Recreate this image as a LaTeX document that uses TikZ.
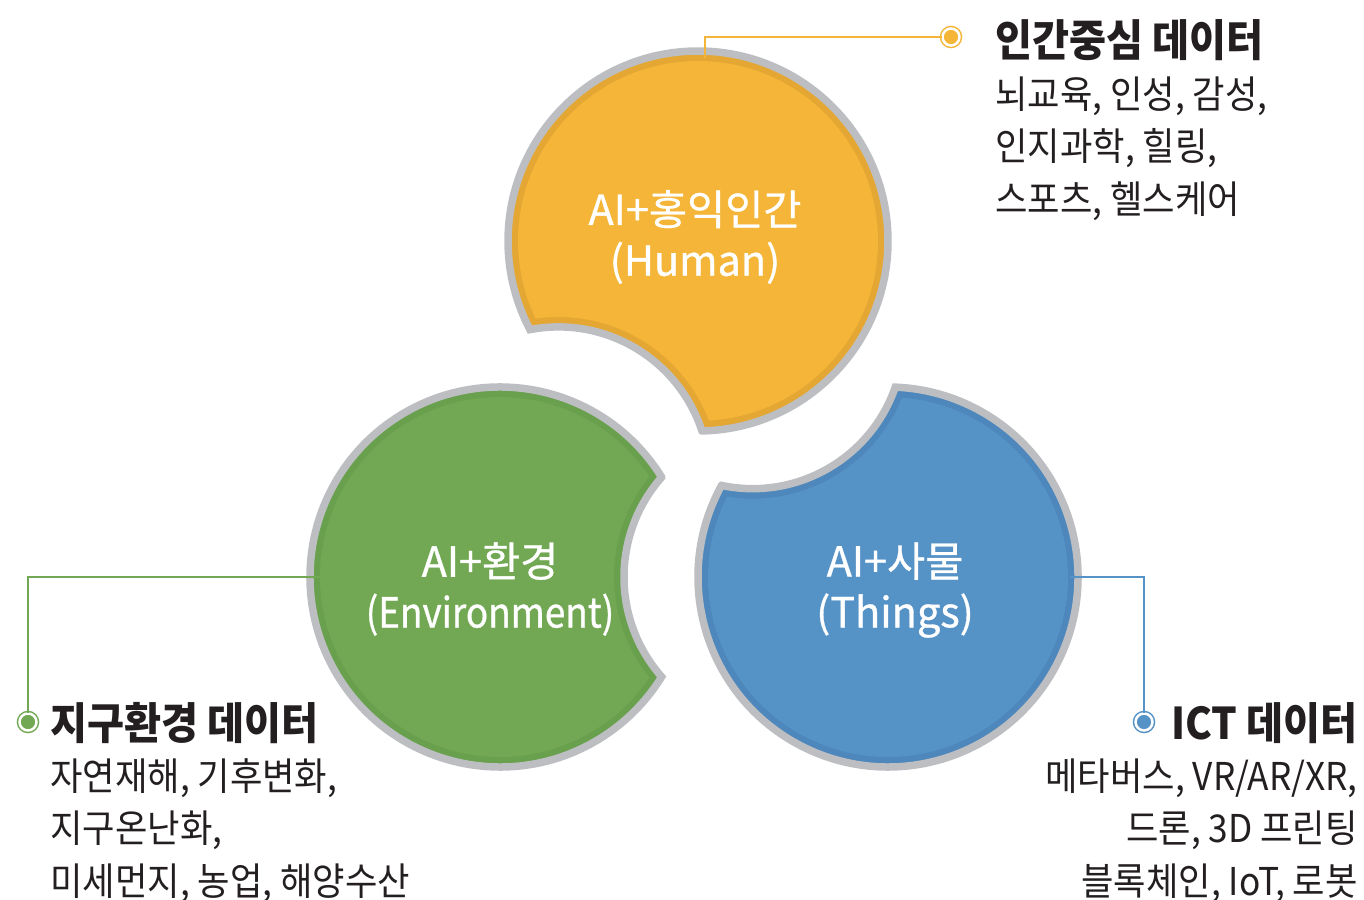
\documentclass[tikz,border=0pt]{standalone}
\usepackage{fontspec}
\newfontfamily\krfont[FakeStretch=0.92]{Noto Sans CJK KR}
\newfontfamily\krwide[FakeBold=0.8]{Noto Sans CJK KR}
\newfontfamily\krnarrow[FakeBold=0.8,FakeStretch=0.89]{Noto Sans CJK KR}
\definecolor{humlight}{HTML}{F4B538}
\definecolor{humdark}{HTML}{E4A733}
\definecolor{envlight}{HTML}{72A853}
\definecolor{envdark}{HTML}{69A04D}
\definecolor{thglight}{HTML}{5592C6}
\definecolor{thgdark}{HTML}{4D87BB}
\definecolor{rimgray}{HTML}{BDBEC1}
\definecolor{inkdark}{HTML}{231F20}
\begin{document}
\begin{tikzpicture}[x=0.02cm,y=0.02cm,
    rim/.style={draw=rimgray,line width=0.15cm},
    inlabel/.style={text=white,align=center,font=\krwide\fontsize{23.6pt}{28.9pt}\selectfont},
    headtext/.style={text=inkdark,inner sep=0pt,font=\krfont\bfseries\fontsize{24.9pt}{30pt}\selectfont},
    listtext/.style={text=inkdark,inner sep=0pt,font=\krfont\fontsize{21.8pt}{30pt}\selectfont},
    tipdot/.style={circle,inner sep=0pt,minimum size=0.34cm,line width=0.03cm,double=white,double distance=0.05cm},
    leadline/.style={line width=0.03cm}]
  \useasboundingbox (0,0) rectangle (1364,899);
  % orange, bitten towards green
  \begin{scope}[shift={(698,658)},rotate=239.5]
    \filldraw[rim,fill=humdark] (31.69:190) arc[start angle=31.69,end angle=328.31,radius=190]
      arc[start angle=221.37,end angle=138.63,radius=151] -- cycle;
    \fill[humlight] (33.97:180) arc[start angle=33.97,end angle=326.03,radius=180]
      arc[start angle=218.66,end angle=141.34,radius=161] -- cycle;
  \end{scope}
  % green, bitten towards blue
  \begin{scope}[shift={(500,322)},rotate=0]
    \filldraw[rim,fill=envdark] (31.69:190) arc[start angle=31.69,end angle=328.31,radius=190]
      arc[start angle=221.37,end angle=138.63,radius=151] -- cycle;
    \fill[envlight] (33.97:180) arc[start angle=33.97,end angle=326.03,radius=180]
      arc[start angle=218.66,end angle=141.34,radius=161] -- cycle;
  \end{scope}
  % blue, bitten towards orange
  \begin{scope}[shift={(888,322)},rotate=119.5]
    \filldraw[rim,fill=thgdark] (31.69:190) arc[start angle=31.69,end angle=328.31,radius=190]
      arc[start angle=221.37,end angle=138.63,radius=151] -- cycle;
    \fill[thglight] (33.97:180) arc[start angle=33.97,end angle=326.03,radius=180]
      arc[start angle=218.66,end angle=141.34,radius=161] -- cycle;
  \end{scope}
  \node[inlabel] (humlabel) at (695,662) {AI+홍익인간\\(Human)};
  \node[inlabel] (envlabel) at (490,310) {AI+환경\\{\krnarrow(Environment)}};
  \node[inlabel] (thglabel) at (895,309) {AI+사물\\(Things)};
  \coordinate (humtop) at (705,841);
  \coordinate (envleft) at (327,322);
  \coordinate (thgright) at (1070,322);
  \node[tipdot,draw=humlight,fill=humlight] (humdot) at (951,862) {};
  \node[tipdot,draw=envlight,fill=envlight] (envdot) at (28,177) {};
  \node[tipdot,draw=thglight,fill=thglight] (thgdot) at (1144,177) {};
  \draw[leadline,humlight] (humtop) |- (humdot);
  \draw[leadline,envlight] (envleft) -| (envdot);
  \draw[leadline,thglight] (thgright) -| (thgdot);
  \node[headtext,anchor=base west] (humhead) at (995,842) {인간중심 데이터};
  \node[listtext,anchor=north west,align=left] (humlist) at (995,823)
    {뇌교육, 인성, 감성,\\인지과학, 힐링,\\스포츠, 헬스케어};
  \node[headtext,anchor=base west] (envhead) at (50,160) {지구환경 데이터};
  \node[listtext,anchor=north west,align=left] (envlist) at (50,141)
    {자연재해, 기후변화,\\지구온난화,\\미세먼지, 농업, 해양수산};
  \node[headtext,anchor=base east] (thghead) at (1358,160) {ICT 데이터};
  \node[listtext,anchor=north east,align=right] (thglist) at (1358,141)
    {메타버스, VR/AR/XR,\\드론, 3D 프린팅\\블록체인, IoT, 로봇};
\end{tikzpicture}
\end{document}
